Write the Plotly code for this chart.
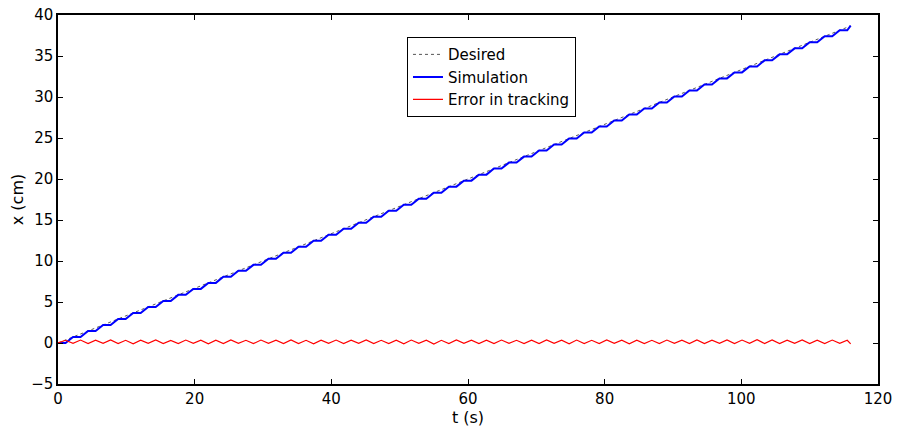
import plotly.graph_objects as go

# time samples (s)
t = [0.0, 1.1, 2.2, 3.3, 4.4, 5.5, 6.6, 7.7, 8.8, 9.9, 11.0, 12.1, 13.2, 14.3, 15.4, 16.5,
     17.6, 18.7, 19.8, 20.9, 22.0, 23.1, 24.2, 25.3, 26.4, 27.5, 28.6, 29.7, 30.8, 31.9,
     33.0, 34.1, 35.2, 36.3, 37.4, 38.5, 39.6, 40.7, 41.8, 42.9, 44.0, 45.1, 46.2, 47.3,
     48.4, 49.5, 50.6, 51.7, 52.8, 53.9, 55.0, 56.1, 57.2, 58.3, 59.4, 60.5, 61.6, 62.7,
     63.8, 64.9, 66.0, 67.1, 68.2, 69.3, 70.4, 71.5, 72.6, 73.7, 74.8, 75.9, 77.0, 78.1,
     79.2, 80.3, 81.4, 82.5, 83.6, 84.7, 85.8, 86.9, 88.0, 89.1, 90.2, 91.3, 92.4, 93.5,
     94.6, 95.7, 96.8, 97.9, 99.0, 100.1, 101.2, 102.3, 103.4, 104.5, 105.6, 106.7, 107.8,
     108.9, 110.0, 111.1, 112.2, 113.3, 114.4, 115.5, 116.0]

# desired trajectory (straight ramp)
desired_t = [0.0, 116.0]
desired_x = [0.0, 38.67]

# simulated position (cm)
sim_x = [0, 0, 0.73, 0.73, 1.47, 1.47, 2.2, 2.2, 2.93, 2.93, 3.67, 3.67, 4.4, 4.4, 5.13, 5.13,
         5.87, 5.87, 6.6, 6.6, 7.33, 7.33, 8.07, 8.07, 8.8, 8.8, 9.53, 9.53, 10.27, 10.27,
         11.0, 11.0, 11.73, 11.73, 12.47, 12.47, 13.2, 13.2, 13.93, 13.93, 14.67, 14.67,
         15.4, 15.4, 16.13, 16.13, 16.87, 16.87, 17.6, 17.6, 18.33, 18.33, 19.07, 19.07,
         19.8, 19.8, 20.53, 20.53, 21.27, 21.27, 22.0, 22.0, 22.73, 22.73, 23.47, 23.47,
         24.2, 24.2, 24.93, 24.93, 25.67, 25.67, 26.4, 26.4, 27.13, 27.13, 27.87, 27.87,
         28.6, 28.6, 29.33, 29.33, 30.07, 30.07, 30.8, 30.8, 31.53, 31.53, 32.27, 32.27,
         33.0, 33.0, 33.73, 33.73, 34.47, 34.47, 35.2, 35.2, 35.93, 35.93, 36.67, 36.67,
         37.4, 37.4, 38.13, 38.13, 38.7]

# tracking error (cm)
err_x = [0.0, 0.33, -0.04, 0.36, -0.07, 0.34, -0.05, 0.38, -0.06, 0.33,
         -0.09, 0.35, -0.04, 0.37, -0.08, 0.32, -0.06, 0.36, -0.05, 0.34,
         -0.10, 0.35, -0.06, 0.37, -0.04, 0.33, -0.08, 0.36, -0.05, 0.34,
         -0.07, 0.38, -0.06, 0.33, -0.09, 0.35, -0.05, 0.36, -0.07, 0.34,
         -0.04, 0.37, -0.08, 0.33, -0.06, 0.35, -0.10, 0.36, -0.05, 0.34,
         -0.12, 0.33, -0.07, 0.37, -0.05, 0.35, -0.06, 0.34, -0.08, 0.36,
         -0.04, 0.33, -0.07, 0.35, -0.06, 0.38, -0.05, 0.34, -0.09, 0.36,
         -0.06, 0.33, -0.08, 0.37, -0.05, 0.34, -0.10, 0.35, -0.06, 0.33,
         -0.07, 0.36, -0.05, 0.34, -0.08, 0.37, -0.06, 0.35, -0.04, 0.38,
         -0.07, 0.36, -0.05, 0.40, -0.06, 0.37, -0.08, 0.35, -0.05, 0.38,
         -0.07, 0.34, -0.06, 0.36, -0.05, 0.33, -0.10]

x_ticks = [0, 20, 40, 60, 80, 100, 120]
y_ticks = [-5, 0, 5, 10, 15, 20, 25, 30, 35, 40]

FONT = "DejaVu Sans, Liberation Sans, Arial, sans-serif"

fig = go.Figure()
fig.add_trace(go.Scatter(x=desired_t, y=desired_x, mode="lines", name="Desired",
                         line=dict(color="#555555", width=1, dash="dot")))
fig.add_trace(go.Scatter(x=t, y=sim_x, mode="lines", name="Simulation",
                         line=dict(color="#0000ff", width=2)))
fig.add_trace(go.Scatter(x=t, y=err_x, mode="lines", name="Error in tracking",
                         line=dict(color="#ff0000", width=1.2)))

axis_common = dict(showgrid=False, zeroline=False, showline=True, linecolor="black",
                   linewidth=1.5, mirror="ticks", ticks="inside", ticklen=5,
                   tickcolor="black", tickwidth=1, automargin=False,
                   tickfont=dict(family=FONT, size=15, color="black"))

fig.update_layout(
    width=898, height=429,
    margin=dict(l=58, r=20, t=15, b=45),
    paper_bgcolor="white", plot_bgcolor="white",
    font=dict(family=FONT, size=15, color="black"),
    xaxis=dict(range=[0, 120], tickvals=x_ticks,
               title=dict(text="t (s)", font=dict(family=FONT, size=16), standoff=0),
               **axis_common),
    yaxis=dict(range=[-5, 40], tickvals=y_ticks,
               title=dict(text="x (cm)", font=dict(family=FONT, size=16), standoff=4),
               **axis_common),
    legend=dict(x=0.4256, y=0.94, xanchor="left", yanchor="top",
                bgcolor="white", bordercolor="black", borderwidth=1,
                font=dict(family=FONT, size=15), tracegroupgap=0,
                itemwidth=30),
    showlegend=True,
)

fig.write_html("out.html")
